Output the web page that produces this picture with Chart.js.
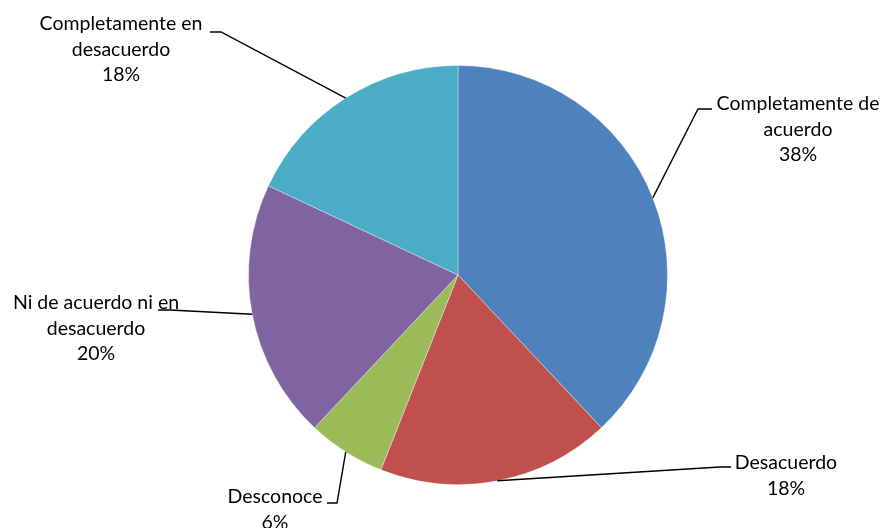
<!DOCTYPE html>
<html>
<head>
<meta charset="utf-8">
<script src="https://cdn.jsdelivr.net/npm/chart.js@4"></script>
<style>
  html, body { margin: 0; padding: 0; background: #fff; }
  #wrap { width: 883px; height: 528px; }
</style>
</head>
<body>
<div id="wrap"><canvas id="pieChart" width="883" height="528"></canvas></div>
<script>
// Respuestas de la encuesta
let categories = [
    "Completamente de acuerdo",
    "Desacuerdo",
    "Desconoce",
    "Ni de acuerdo ni en desacuerdo",
    "Completamente en desacuerdo"
];
let percentages = [38, 18, 6, 20, 18];
let labelLines = [
    ["Completamente de", "acuerdo", "38%"],
    ["Desacuerdo", "18%"],
    ["Desconoce", "6%"],
    ["Ni de acuerdo ni en", "desacuerdo", "20%"],
    ["Completamente en", "desacuerdo", "18%"]
];
let colors = ["#4F81BD", "#C0504D", "#9BBB59", "#8064A2", "#4BACC6"];

// Where each label sits and where its leader line bends
let labelSpots = [
    { x: 798, y: 104, elbow: [698, 109], end: [712, 109] },
    { x: 786, y: 463, elbow: [720, 467], end: [731, 467] },
    { x: 275, y: 497, elbow: [337, 503], end: [327, 503] },
    { x: 96, y: 303, elbow: [170, 310], end: [158, 310] },
    { x: 121, y: 24, elbow: [221, 32], end: [210, 32] }
];

const leaderLabels = {
    id: "leaderLabels",
    afterDatasetsDraw(chart) {
        let ctx = chart.ctx;
        let arcs = chart.getDatasetMeta(0).data;
        ctx.save();
        arcs.forEach(function(arc, i) {
            let mid = (arc.startAngle + arc.endAngle) / 2;
            let px = arc.x + Math.cos(mid) * arc.outerRadius;
            let py = arc.y + Math.sin(mid) * arc.outerRadius;
            let spot = labelSpots[i];
            ctx.beginPath();
            ctx.moveTo(px, py);
            ctx.lineTo(spot.elbow[0], spot.elbow[1]);
            ctx.lineTo(spot.end[0], spot.end[1]);
            ctx.strokeStyle = "#000";
            ctx.lineWidth = 1.4;
            ctx.stroke();

            ctx.fillStyle = "#000";
            ctx.font = "19.5px Lato, 'Open Sans', sans-serif";
            ctx.textAlign = "center";
            ctx.textBaseline = "middle";
            labelLines[i].forEach(function(line, j) {
                ctx.fillText(line, spot.x, spot.y + j * 25.5);
            });
        });
        ctx.restore();
    }
};

new Chart(document.getElementById("pieChart"), {
    type: "pie",
    data: {
        labels: categories,
        datasets: [{
            data: percentages,
            backgroundColor: colors,
            borderColor: "rgba(255,255,255,0.35)",
            borderWidth: 1
        }]
    },
    options: {
        responsive: false,
        animation: false,
        layout: { padding: { left: 248, right: 215, top: 65, bottom: 43 } },
        plugins: {
            legend: { display: false },
            tooltip: { enabled: false }
        }
    },
    plugins: [leaderLabels]
});
</script>
</body>
</html>
